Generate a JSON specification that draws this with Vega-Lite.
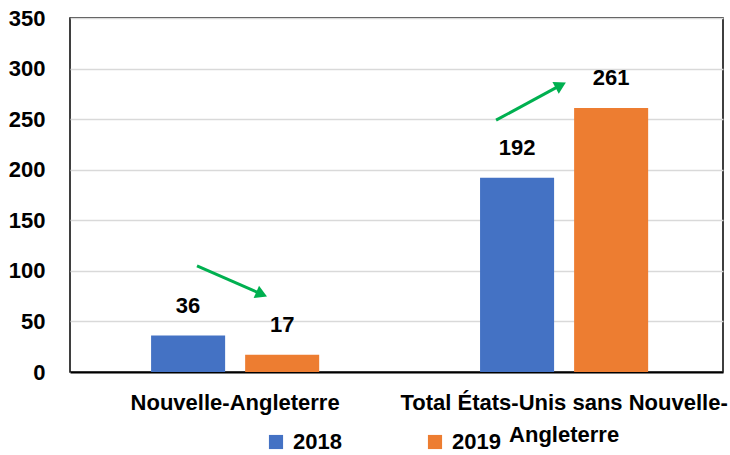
{
  "$schema": "https://vega.github.io/schema/vega-lite/v6.json",
  "width": 653,
  "height": 354,
  "autosize": {"type": "none"},
  "padding": {"left": 70, "top": 18, "right": 7, "bottom": 83},
  "background": "white",
  "config": {
    "font": "Liberation Sans",
    "view": {"stroke": "black", "strokeWidth": 1.5},
    "axis": {"labelFont": "Liberation Sans", "labelFontWeight": "bold", "labelFontSize": 22, "labelColor": "black"},
    "legend": {"labelFont": "Liberation Sans", "labelFontWeight": "bold", "labelFontSize": 22, "labelColor": "black"}
  },
  "layer": [
    {
      "data": {"values": [
        {"region": "Nouvelle-Angleterre", "year": "2018", "value": 36},
        {"region": "Nouvelle-Angleterre", "year": "2019", "value": 17},
        {"region": "Total États-Unis sans Nouvelle-Angleterre", "year": "2018", "value": 192},
        {"region": "Total États-Unis sans Nouvelle-Angleterre", "year": "2019", "value": 261}
      ]},
      "encoding": {
        "x": {
          "field": "region", "type": "nominal", "sort": null,
          "scale": {"paddingInner": 0.489, "paddingOuter": 0.237, "align": 0.52},
          "axis": {
            "title": null, "labelAngle": 0, "ticks": false,
            "domainColor": "black", "domainWidth": 2,
            "labelPadding": 20, "labelLineHeight": 32, "labelLimit": 400,
            "labelExpr": "datum.label == 'Total États-Unis sans Nouvelle-Angleterre' ? ['Total États-Unis sans Nouvelle-', 'Angleterre'] : datum.label"
          }
        },
        "xOffset": {"field": "year", "type": "nominal", "scale": {"paddingInner": 0.2128, "paddingOuter": 0}},
        "y": {
          "field": "value", "type": "quantitative",
          "scale": {"domain": [0, 350], "nice": false},
          "axis": {"title": null, "values": [0, 50, 100, 150, 200, 250, 300, 350], "labelOverlap": false, "labelBound": false, "ticks": false, "domain": false, "labelPadding": 25, "gridColor": "#D9D9D9", "gridWidth": 1.3}
        }
      },
      "layer": [
        {
          "mark": {"type": "bar"},
          "encoding": {
            "color": {
              "field": "year", "type": "nominal",
              "scale": {"domain": ["2018", "2019"], "range": ["#4472C4", "#ED7D31"]},
              "legend": {
                "title": null, "orient": "none", "direction": "horizontal",
                "legendX": 195, "legendY": 413,
                "symbolType": "square", "symbolSize": 200, "symbolStrokeWidth": 0,
                "labelOffset": 6, "columnPadding": 82
              }
            }
          }
        },
        {
          "mark": {"type": "text", "baseline": "bottom", "dy": -18, "fontSize": 22, "fontWeight": "bold", "font": "Liberation Sans", "color": "black"},
          "encoding": {"text": {"field": "value", "type": "quantitative"}}
        }
      ]
    },
    {
      "data": {"values": [
        {"x1": 0.389, "y1": 105, "x2": 0.587, "y2": 77, "angle": 113.6},
        {"x1": 1.305, "y1": 249, "x2": 1.503, "y2": 283.6, "angle": 62}
      ]},
      "encoding": {
        "x": {"field": "x1", "type": "quantitative", "scale": {"domain": [0, 2], "nice": false, "zero": false}, "axis": null},
        "y": {"field": "y1", "type": "quantitative", "scale": {"domain": [0, 350], "nice": false}}
      },
      "layer": [
        {
          "mark": {"type": "rule", "color": "#00B050", "strokeWidth": 3},
          "encoding": {
            "x2": {"field": "x2"},
            "y2": {"field": "y2"}
          }
        },
        {
          "mark": {"type": "point", "shape": "triangle-up", "filled": true, "color": "#00B050", "opacity": 1, "size": 180},
          "encoding": {
            "x": {"field": "x2", "type": "quantitative"},
            "y": {"field": "y2", "type": "quantitative"},
            "angle": {"field": "angle", "type": "quantitative", "scale": null}
          }
        }
      ]
    }
  ],
  "resolve": {"scale": {"x": "independent"}}
}
